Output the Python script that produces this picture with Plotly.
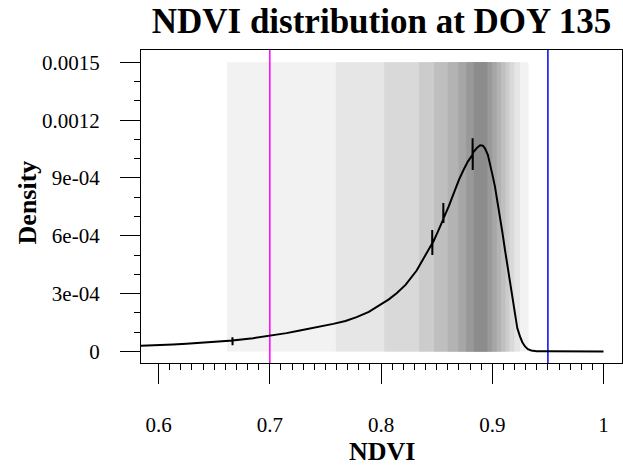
import plotly.graph_objects as go

# Density curve of NDVI values (bin density) at day-of-year 135
ndvi = [0.580, 0.600, 0.613, 0.625, 0.643, 0.662, 0.6663, 0.6664, 0.6665, 0.6666,
        0.685, 0.700, 0.715, 0.727, 0.742, 0.757, 0.768, 0.778, 0.789, 0.799,
        0.807, 0.814, 0.822, 0.832, 0.840, 0.8459, 0.8460, 0.8461, 0.8462, 0.851,
        0.8559, 0.8560, 0.8561, 0.8562, 0.861, 0.865, 0.870, 0.874, 0.878,
        0.8822, 0.8823, 0.8824, 0.8825, 0.886, 0.889, 0.8915, 0.8934, 0.896,
        0.898, 0.900, 0.9024, 0.905, 0.9069, 0.909, 0.9114, 0.9137, 0.9159,
        0.918, 0.9204, 0.9225, 0.9249, 0.927, 0.9294, 0.932, 0.935, 0.940,
        0.950, 1.000]
density = [2.9e-5, 3.2e-5, 3.6e-5, 4.0e-5, 4.7e-5, 5.5e-5, 5.7e-5, 7.4e-5, 3.2e-5, 5.7e-5,
           6.9e-5, 8.1e-5, 9.5e-5, 1.09e-4, 1.25e-4, 1.43e-4, 1.58e-4, 1.78e-4, 2.05e-4, 2.42e-4,
           2.70e-4, 3.02e-4, 3.45e-4, 4.2e-4, 5.0e-4, 5.6e-4, 6.3e-4, 5.0e-4, 5.6e-4, 6.2e-4,
           6.85e-4, 7.7e-4, 6.66e-4, 6.9e-4, 7.55e-4, 8.2e-4, 8.9e-4, 9.4e-4, 9.85e-4,
           1.02e-3, 1.106e-3, 9.41e-4, 1.03e-3, 1.055e-3, 1.07e-3, 1.068e-3, 1.054e-3, 1.02e-3,
           9.76e-4, 9.2e-4, 8.55e-4, 7.7e-4, 6.99e-4, 6.2e-4, 5.27e-4, 4.4e-4, 3.54e-4,
           2.65e-4, 1.81e-4, 1.2e-4, 7.8e-5, 4.8e-5, 2.6e-5, 1.2e-5, 5e-6, 1.5e-6,
           5e-7, 0.0]

# Nested quantile intervals (outermost first) shown as grey bands
band_lo = [0.6615, 0.7594, 0.8028, 0.8341, 0.8476, 0.8599, 0.8695, 0.8764, 0.8833]
band_hi = [0.9325, 0.9250, 0.9199, 0.9154, 0.9118, 0.9079, 0.9040, 0.8998, 0.8956]
band_grey = [242, 230, 217, 204, 191, 179, 166, 153, 140]
band_top = 0.0015

# Reference thresholds
threshold_low = 0.70
threshold_high = 0.95

x_ticks = [0.6, 0.7, 0.8, 0.9, 1.0]
x_labels = ["0.6", "0.7", "0.8", "0.9", "1"]
y_ticks = [0, 3e-4, 6e-4, 9e-4, 1.2e-3, 1.5e-3]
y_labels = ["0", "3e-04", "6e-04", "9e-04", "0.0012", "0.0015"]

X_RANGE = [0.5842, 1.0166]
Y_RANGE = [-6e-5, 1.564e-3]

FONT = "Liberation Serif, Times New Roman, serif"

shapes = []
for lo, hi, g in zip(band_lo, band_hi, band_grey):
    shapes.append(dict(type="rect", xref="x", yref="y", x0=lo, x1=hi, y0=0, y1=band_top,
                       fillcolor=f"rgb({g},{g},{g})", line=dict(width=0), layer="below"))
for xv, col in ((threshold_low, "#ff00ff"), (threshold_high, "#0000ff")):
    shapes.append(dict(type="line", xref="x", yref="y", x0=xv, x1=xv,
                       y0=Y_RANGE[0], y1=Y_RANGE[1],
                       line=dict(color=col, width=1.5), layer="below"))

fig = go.Figure()
fig.add_trace(go.Scatter(x=ndvi, y=density, mode="lines",
                         line=dict(color="black", width=2), hoverinfo="skip",
                         showlegend=False))

x_minor = [round(0.6 + 0.01 * i, 2) for i in range(41) if i % 10 != 0]
y_minor = [1e-4 * i for i in range(16) if i % 3 != 0]

fig.update_layout(
    width=623, height=465,
    margin=dict(l=141, r=1, t=50, b=102, pad=0),
    paper_bgcolor="white", plot_bgcolor="white",
    font=dict(family=FONT, color="black", size=21),
    shapes=shapes,
    title=dict(text="<b>NDVI distribution at DOY 135</b>",
               font=dict(family=FONT, size=35, color="black"),
               x=0.5, xref="paper", xanchor="center",
               y=1 - 21 / 465, yref="container", yanchor="middle"),
    xaxis=dict(range=X_RANGE, showgrid=False, zeroline=False,
               showline=True, linecolor="black", linewidth=1.3, mirror=True,
               tickmode="array", tickvals=x_ticks, ticktext=x_labels,
               ticks="outside", ticklen=20, tickwidth=1.3, tickcolor="black",
               ticklabelstandoff=23,
               tickfont=dict(family=FONT, size=21, color="black"),
               minor=dict(tickmode="array", tickvals=x_minor, ticks="outside",
                          ticklen=6, tickwidth=1.3, tickcolor="black")),
    yaxis=dict(range=Y_RANGE, showgrid=False, zeroline=False,
               showline=True, linecolor="black", linewidth=1.3, mirror=True,
               tickmode="array", tickvals=y_ticks, ticktext=y_labels,
               ticks="outside", ticklen=20, tickwidth=1.3, tickcolor="black",
               ticklabelstandoff=16,
               tickfont=dict(family=FONT, size=21, color="black"),
               minor=dict(tickmode="array", tickvals=y_minor, ticks="outside",
                          ticklen=6, tickwidth=1.3, tickcolor="black")),
    annotations=[
        dict(text="<b>NDVI</b>", xref="paper", yref="paper", x=0.5, y=0,
             xanchor="center", yanchor="middle", yshift=-88, showarrow=False,
             font=dict(family=FONT, size=26, color="black")),
        dict(text="<b>Density</b>", xref="paper", yref="paper", x=0, y=0.513,
             xanchor="center", yanchor="middle", xshift=-114, textangle=-90,
             showarrow=False, font=dict(family=FONT, size=26, color="black")),
    ],
)

fig.write_html("out.html")
